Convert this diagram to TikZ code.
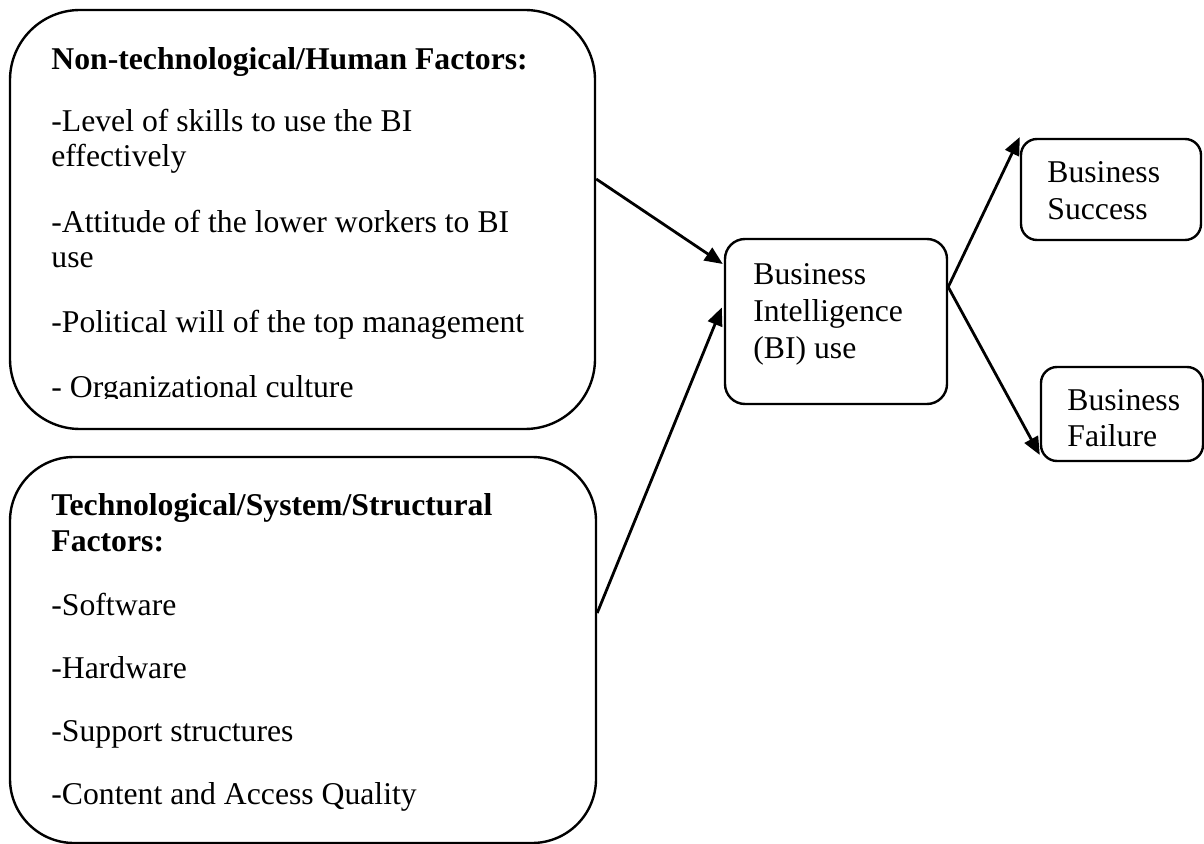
\documentclass[tikz,border=0pt]{standalone}
\usepackage{fontspec}
\setmainfont{Liberation Serif}
\usetikzlibrary{calc,arrows.meta}
\begin{document}
\begin{tikzpicture}[x=0.5pt,y=-0.5pt,
  box/.style={draw, line width=1.2pt, rectangle, inner sep=0pt},
  txt/.style={anchor=base west, inner sep=0pt, align=left,
    font=\fontsize{15.85pt}{18.35pt}\selectfont},
  txttight/.style={txt, font=\fontsize{15.85pt}{17.5pt}\selectfont},
  conn/.style={line width=1.4pt, -{Triangle[length=9pt,width=7.5pt]}}]
\useasboundingbox (0,0) rectangle (1204,844);

% factor boxes
\node[box, rounded corners=35pt, minimum width=292.5pt, minimum height=209.5pt] (nonTech) at (302.5,219.5) {};
\node[box, rounded corners=32pt, minimum width=293pt, minimum height=193pt] (tech) at (303,650) {};

% central and outcome boxes
\node[box, rounded corners=10pt, minimum width=111pt, minimum height=82.5pt] (biUse) at (836,321.5) {};
\node[box, rounded corners=8pt, minimum width=90pt, minimum height=50.5pt] (success) at (1111,189.5) {};
\node[box, rounded corners=8pt, minimum width=81pt, minimum height=47pt] (failure) at (1122,414) {};

% box texts (last line of the first box is cut at its baseline)
\begin{scope}
  \clip (0,0) rectangle (600,399);
  \node[txttight] (nonTechText) at (51,70) {\begin{tabular}[t]{@{}l@{}}
    \textbf{Non-technological/Human Factors:}\\[13.5pt]
    -Level of skills to use the BI\\
    effectively\\[15.5pt]
    -Attitude of the lower workers to BI\\
    use\\[15pt]
    -Political will of the top management\\[15pt]
    - Organizational culture
  \end{tabular}};
\end{scope}

\node[txt] (techText) at (51,515) {\begin{tabular}[t]{@{}l@{}}
    \textbf{Technological/System/Structural}\\
    \textbf{Factors:}\\[13.3pt]
    -Software\\[13.3pt]
    -Hardware\\[13.3pt]
    -Support structures\\[13.3pt]
    -Content and Access Quality
  \end{tabular}};

\node[txt] (biText) at (753,285) {\begin{tabular}[t]{@{}l@{}}
    Business\\ Intelligence\\ (BI) use
  \end{tabular}};
\node[txt] (successText) at (1047,183) {\begin{tabular}[t]{@{}l@{}}
    Business\\ Success
  \end{tabular}};
\node[txt] (failureText) at (1067,410) {\begin{tabular}[t]{@{}l@{}}
    Business\\ Failure
  \end{tabular}};

% connectors
\coordinate (fork) at ($(biUse.east)+(0,-34.5)$);
\draw[conn] ($(nonTech.east)+(0,-40.5)$) -- ($(biUse.west)+(-1,-57.5)$);
\draw[conn] ($(tech.east)+(0,-37)$) -- ($(biUse.west)+(-2,-14)$);
\draw[conn] (fork) -- ($(success.west)+(0,-52.5)$);
\draw[conn] (fork) -- ($(failure.west)+(0,41)$);
\end{tikzpicture}
\end{document}
